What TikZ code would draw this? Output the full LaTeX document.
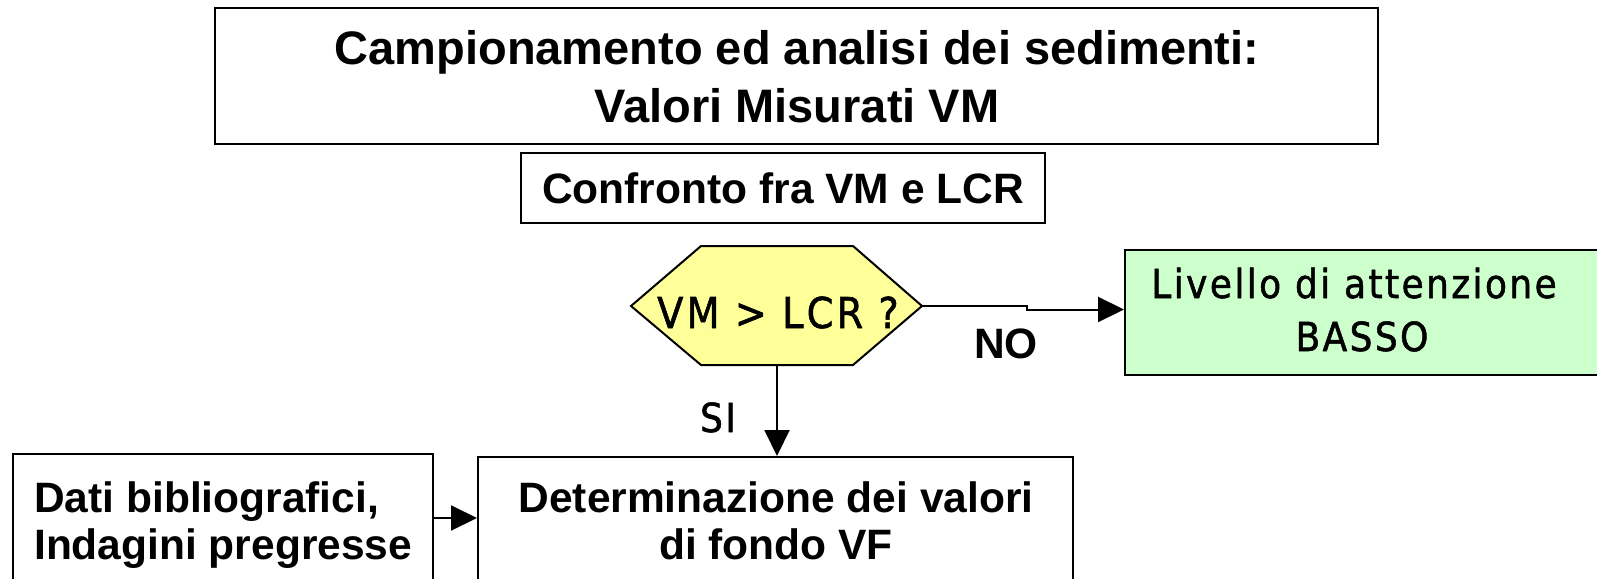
\documentclass[tikz,border=0pt]{standalone}
\usepackage{fontspec}
\setmainfont{Liberation Sans}
\newfontfamily\spfont[LetterSpace=6,FakeBold=1.3]{DejaVu Sans Condensed}
\newfontfamily\spfontw[LetterSpace=7.5,FakeBold=1.3]{DejaVu Sans Condensed}
\usetikzlibrary{arrows.meta}
\definecolor{hexfill}{HTML}{FFFF99}
\definecolor{greenfill}{HTML}{CCFFCC}
\begin{document}
\begin{tikzpicture}[x=1pt,y=-1pt,
  box/.style={draw=black, line width=2pt, inner sep=0pt, rectangle},
  lab/.style={font=\fontsize{42.5}{48}\selectfont\bfseries, anchor=base, inner sep=0pt},
  ttl/.style={font=\fontsize{47}{57}\selectfont\bfseries, anchor=base, inner sep=0pt},
  slab/.style={font=\fontsize{40}{52}\selectfont\spfont, anchor=base, inner sep=0pt},
  arr/.style={-{Triangle[length=26pt,width=25pt]}, line width=2pt}]
\useasboundingbox (0,0) rectangle (1597,578);
\fill[white] (0,0) rectangle (1597,578);
% boxes
\node[box, minimum width=1163pt, minimum height=136pt] (top) at (796.5,76) {};
\node[ttl] (t1) at (797,64) {Campionamento ed analisi dei sedimenti:};
\node[ttl] (t2) at (797,122) {Valori Misurati VM};
\node[box, minimum width=524pt, minimum height=70pt] (conf) at (783,188) {};
\node[lab] (conft) at (783,203) {Confronto fra VM e LCR};
% hexagon
\coordinate (hexW) at (631,306);
\coordinate (hexE) at (922,306);
\coordinate (hexS) at (777,365);
\draw[line width=2pt, fill=hexfill] (hexW) -- (701,246) -- (853,246) -- (hexE) -- (853,365) -- (701,365) -- cycle;
\node[slab, font=\fontsize{42.5}{52}\selectfont\spfontw] (hext) at (778,328) {VM > LCR ?};
% green box
\node[box, fill=greenfill, minimum width=495pt, minimum height=125pt] (green) at (1372.5,312.5) {};
\node[slab] (g1) at (1354,298) {Livello di attenzione};
\node[slab] (g2) at (1362,351) {BASSO};
% bottom boxes
\node[box, minimum width=420pt, minimum height=186pt] (dati) at (223,547) {};
\node[lab, anchor=base west] (d1) at (34,512) {Dati bibliografici,};
\node[lab, anchor=base west] (d2) at (34,559) {Indagini pregresse};
\node[box, minimum width=595pt, minimum height=183pt] (det) at (775.5,548.5) {};
\node[lab] (e1) at (776,512) {Determinazione dei valori};
\node[lab] (e2) at (776,559) {di fondo VF};
% connectors
\draw[arr] (hexE) -- ++(105,0) |- ([yshift=3pt]green.west);
\draw[arr] (hexS) -- (hexS |- det.north);
\coordinate (dA) at ([yshift=-65pt]dati.north east);
\draw[arr] (dA) -- (dA -| det.west);
% labels
\node[lab] (no) at (1006,358) {NO};
\node[slab] (si) at (718,432) {SI};
\end{tikzpicture}
\end{document}
